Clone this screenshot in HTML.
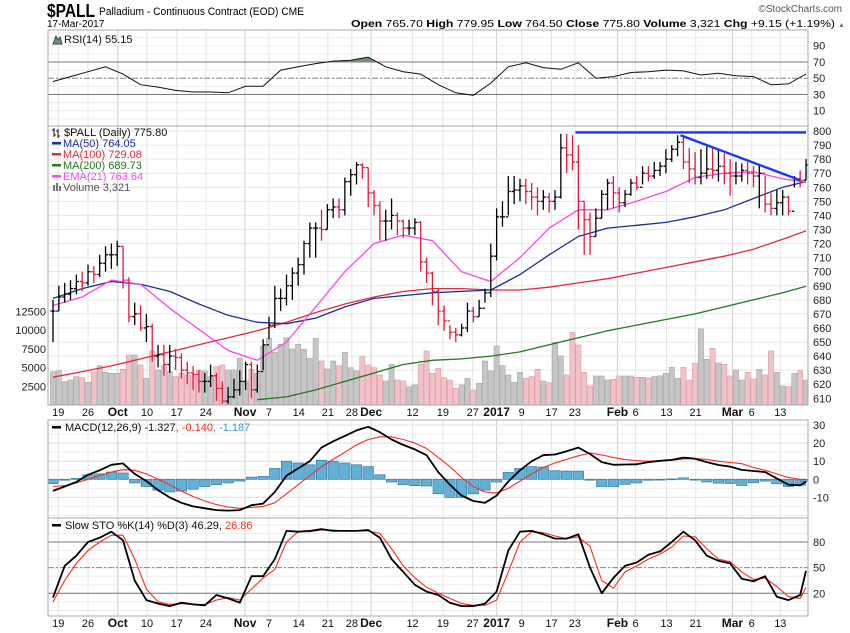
<!DOCTYPE html>
<html><head><meta charset="utf-8"><style>
html,body{margin:0;padding:0;background:#fff;}
svg{display:block;font-family:"Liberation Sans",sans-serif;}
</style></head><body>
<svg id="c" width="850" height="633" viewBox="0 0 850 633" xmlns="http://www.w3.org/2000/svg">
<g>
<text x="47" y="17" font-size="18" font-weight="bold" textLength="48" lengthAdjust="spacingAndGlyphs">$PALL</text>
<text x="99" y="15" font-size="11" textLength="205" lengthAdjust="spacingAndGlyphs">Palladium - Continuous Contract (EOD) CME</text>
<text x="842" y="12" font-size="10" fill="#555" text-anchor="end">©StockCharts.com</text>
<text x="47" y="27" font-size="10">17-Mar-2017</text>
<text x="351" y="27" font-size="10.5" textLength="484" lengthAdjust="spacingAndGlyphs"><tspan font-weight="bold">Open</tspan> 765.70 <tspan font-weight="bold">High</tspan> 779.95 <tspan font-weight="bold">Low</tspan> 764.50 <tspan font-weight="bold">Close</tspan> 775.80 <tspan font-weight="bold">Volume</tspan> 3,321 <tspan font-weight="bold">Chg</tspan> +9.15 (+1.19%)</text>
<text x="838" y="27" font-size="7" fill="#777">▲</text>
</g>
<g id="grid"></g>
<g id="marks"></g>
<g id="overlay"></g>
</svg>
<script>
// ===== data =====
const closes=[672,682,684,688,693,692,700,698,706,712,712,
718,694,668,670,660,661,640,641,634,640,639,630,628,627,622,622,626,617,608,611,616,622,634,616,629,648,662,681,681,690,699,705,720,731,731,730,744,746,744,764,769,776,774,756,747,736,736,740,736,731,731,735,707,699,
686,672,665,657,655,660,672,668,674,685,711,739,739,757,758,761,757,753,750,753,750,753,788,783,778,750,737,725,738,755,763,756,749,755,763,760,770,768,772,775,780,787,792,778,773,767,770,773,772,775,770,768,768,772,770,768,770,748,745,749,753,743,766,765,775.8];
const highs=[680,690,692,694,698,700,705,704,712,718,720,
722,718,696,678,676,670,663,648,648,648,645,642,636,633,630,628,634,628,622,618,624,630,636,636,634,652,668,690,688,698,703,710,722,735,735,744,748,752,752,767,773,778,777,774,758,750,744,752,742,737,737,738,736,710,
700,688,676,662,660,663,678,675,680,688,720,745,750,768,768,766,766,763,760,758,756,758,798,798,797,790,750,742,745,758,766,768,760,758,766,768,775,775,778,778,787,790,797,797,788,785,787,789,788,787,784,780,778,777,778,775,776,768,756,758,758,754,768,772,780];
const lows=[650,672,678,680,684,686,690,692,696,700,702,
704,688,664,662,658,650,636,632,626,628,630,624,620,616,614,614,618,608,606,606,610,612,616,610,614,630,652,660,672,676,680,690,698,710,710,722,730,738,738,740,754,762,766,746,740,722,722,730,726,724,726,726,700,692,
676,662,658,652,650,654,657,664,668,678,682,708,732,740,748,750,748,744,740,744,742,744,752,770,772,730,712,712,725,738,744,745,742,746,754,758,762,764,766,768,770,778,782,773,763,762,762,766,766,764,762,754,762,764,762,760,745,742,740,740,740,740,760,760,765];
const volumes=[4456,4590,3120,3340,3790,3655,3030,4456,5260,4365,4235,4235,4770,6685,6685,5350,3565,7220,4680,5260,4456,3790,4235,4010,4010,4680,4545,3790,5125,5350,4680,4680,6240,3210,4770,4235,7890,8910,7040,8110,9000,7490,8110,7440,6240,8910,5880,4810,5880,5260,7040,4990,4545,6460,5350,4990,4010,3210,5440,3340,3210,2450,2675,5440,7220,
4235,4900,3655,3340,2230,2675,3565,2005,2900,5880,4545,7890,5260,4010,3030,4365,3565,3790,4770,3210,2990,8380,6550,4010,9720,8020,4365,2540,3880,3880,3340,3430,3880,3880,3880,3700,3700,3600,3800,3900,4235,5040,3565,5040,3340,5570,10160,6105,7575,5615,5440,3880,4680,3340,4365,3475,4770,4010,7220,4365,2540,2450,4235,4590,3321];
// moving averages, one value every 5 bars
const ma50=[681,688,693,691,686,677,669,664,663,667,675,681,683,685,686,687,698,712,725,731,733,735,739,744,752,760,764];
const ma100=[625,629,633,638,643,648,653,658,664,671,677,682,686,688,688,687,687,689,692,695,699,703,707,711,716,723,729];
const ma200=[null,null,null,null,null,null,null,609,611,616,622,628,634,637,638,640,643,648,653,658,662,666,670,675,680,685,689.7];
const ema21=[676,682,694,691,674,659,644,637,650,675,700,720,726,722,700,693,710,731,744,744,750,757,767,770,771,766,763.6];
// RSI, one value every 3 bars
const rsi=[46,52,58,64,55,42,39,35,33,33,32,40,40,60,64,68,71,72,76,64,58,55,42,32,29,44,64,69,63,61,69,50,52,57,58,60,59,54,56,53,52,42,43,55.15];
// MACD / signal / stochastics, one value every 2 bars
const macd=[-6.4,-4,-1.5,2.5,5,8,8.8,3,-1,-6,-10,-13,-15,-16,-17,-17.3,-17,-14.3,-13.4,-7,2,6,10,17.5,21,24,27,29,26,22,19,16.5,13.3,4,-3,-9,-12,-13,-9,-1.2,5,10,13.3,13.7,15.5,17.5,14,9.5,8,8.2,8.3,9.5,10.2,10.7,12,11.4,9.5,7.9,7,5.2,4.6,4,0.5,-3,-3.3,-1.33];
const signal=[-4,-3.5,-2,0,2,4,5.3,5,3,0,-3,-6.5,-9.5,-12,-14,-15.3,-16,-15.5,-15,-13,-8,-3,2,7,11,15,19,22,23.5,23.5,22,20,17,12,7,1,-4,-7,-7.5,-5,-1,3,6.5,9,11,13,14.5,13.5,12,11,10.3,10,10.2,10.5,11.2,11.5,11,10,9.3,8.6,6.5,5,3,1,0,-0.14];
const stoK=[15,52,64,80,85,92,82,35,12,8,5,9,7,6,18,14,9,40,40,60,93,92,93,95,93,93,93,94,85,60,45,30,22,18,9,5,5,8,22,70,92,93,89,84,84,89,50,20,38,52,56,65,69,80,92,82,64,58,55,37,34,40,16,12,18,46.29];
const stoD=[10,35,55,70,80,88,88,60,25,10,7,8,7,7,12,15,12,25,38,48,80,92,92,94,94,93,93,93,90,72,52,38,27,20,14,8,6,6,12,45,80,92,91,87,84,86,75,35,26,45,52,60,66,74,87,86,72,60,57,45,36,38,28,16,14,26.86];
const dateLabels=["19","26","Oct","10","17","24","Nov","7","14","21","28","Dec","12","19","27","2017","9","17","23","Feb","6","13","21","Mar","6","13"];
const dateIdx=[0.9,6,11.1,16.1,21.2,26.2,32.9,37,42.1,47.1,51.2,54.5,61.6,66.8,71.9,76,80.3,85.4,89.4,96.7,99.8,105.1,110.1,116.4,119.7,124.6];
const monthLabels=["Oct","Nov","Dec","2017","Feb","Mar"];
const priceTicks=[800,790,780,770,760,750,740,730,720,710,700,690,680,670,660,650,640,630,620,610];
const volTicks=[2500,5000,7500,10000,12500];
const rsiTicks=[90,70,50,30,10];
const macdTicks=[30,20,10,0,-10];
const stoTicks=[80,50,20];
// trendline annotations: [barIndex, price]
const resistLine=[[89.5,799],[129,799]];
const downLine=[[107.5,797],[128,765]];
</script>
<script>
const NS="http://www.w3.org/2000/svg";
const L=48,R=808;
const x0=53,xStep=(806-53)/129;
function xAt(i){return x0+i*xStep;}
const P={rsi:[30,126],main:[126,405],macd:[420,518],sto:[518,616]};
function yPrice(p){return 131+(800-p)*(267.3/190);}
function yVol(v){return 405-v*(18.7/2500);}
function yRsi(v){return 45.7+(90-v)*0.8125;}
function yMacd(v){return 479.3-v*1.81;}
function ySto(v){return 542+(80-v)*0.855;}
function el(tag,attrs,parent){const e=document.createElementNS(NS,tag);for(const k in attrs)e.setAttribute(k,attrs[k]);parent.appendChild(e);return e;}
const grid=document.getElementById('grid'),marks=document.getElementById('marks'),ov=document.getElementById('overlay');

for(const k in P){
  const t=P[k][0],b=P[k][1];
  const bg=el('rect',{x:L,y:t,width:R-L,height:b-t,fill:'#fff'},grid);
  
  
  dateIdx.forEach((di,j)=>{
    const isM=monthLabels.includes(dateLabels[j]);
    const ln=el('line',{x1:xAt(di),x2:xAt(di),y1:t,y2:b,stroke:isM?'#cfcfcf':'#e4e4e4','stroke-width':1},grid);
    
    
  });
}
function hline(y,stroke,dash,name){const ln=el('line',{x1:L,x2:R,y1:y,y2:y,stroke:stroke,'stroke-width':1},grid);if(dash)ln.setAttribute('stroke-dasharray',dash);
  
  return ln;}
function rlabel(y,txt,name){const t=el('text',{x:813,y:y+4,'font-size':11,fill:'#222'},grid);t.textContent=txt;
  
  }
for(let v=100;v>=0;v-=10){hline(yRsi(v),'#ececec',null,'rsi-minor-gridline');}
rsiTicks.forEach(v=>{rlabel(yRsi(v),String(v),'rsi-tick-label');});
hline(yRsi(70),'#777',null,'rsi-overbought-line');
hline(yRsi(30),'#777',null,'rsi-oversold-line');
hline(yRsi(50),'#888','6,2,2,2','rsi-midline');
priceTicks.forEach(v=>{hline(yPrice(v),'#e6e6e6',null,'price-gridline');rlabel(yPrice(v),String(v),'price-tick-label');});
volTicks.forEach(v=>{const t=el('text',{x:46,y:yVol(v)+4,'font-size':11,fill:'#222','text-anchor':'end'},grid);t.textContent=String(v);
  
  });
for(let v=30;v>=-20;v-=5){if(yMacd(v)>421&&yMacd(v)<517)hline(yMacd(v),'#eeeeee',null,'macd-minor-gridline');}
macdTicks.forEach(v=>{hline(yMacd(v),'#e2e2e2',null,'macd-gridline');rlabel(yMacd(v),String(v),'macd-tick-label');});
for(let v=100;v>=0;v-=10){hline(ySto(v),'#ececec',null,'sto-minor-gridline');}
hline(ySto(80),'#777',null,'sto-80-line');
hline(ySto(20),'#777',null,'sto-20-line');
hline(ySto(50),'#888','6,2,2,2','sto-50-line');
stoTicks.forEach(v=>rlabel(ySto(v),String(v),'sto-tick-label'));

function dateAxis(y,name){dateIdx.forEach((di,j)=>{const isM=monthLabels.includes(dateLabels[j]);
  const t=el('text',{x:xAt(di),y:y,'font-size':isM?12:11,'font-weight':isM?'bold':'normal','text-anchor':'middle',fill:'#111'},grid);
  t.textContent=dateLabels[j];
  
  });}
dateAxis(416,'main-date-label');
dateAxis(627,'bottom-date-label');

const defs=el('defs',{},marks);
['main','macd'].forEach(k=>{const cp=el('clipPath',{id:'clip-'+k},defs);el('rect',{x:L,y:P[k][0],width:R-L,height:P[k][1]-P[k][0]},cp);});
const mainG=el('g',{'clip-path':'url(#clip-main)'},marks);



const n=Math.min(closes.length,highs.length,lows.length);
for(let i=0;i<volumes.length&&i<n;i++){
  const down=i>0&&closes[i]<closes[i-1];
  const y=yVol(volumes[i]);
  const r=el('rect',{x:xAt(i)-2.6,y:y,width:5.2,height:405-y,fill:down?'#f1c3c8':'#c6c6c6',stroke:down?'#dc9aa2':'#a8a8a8','stroke-width':0.6},mainG);
  
  
}
function coarseLine(arr,step,yf,color,w,name,parent,last){
  let d='';let started=false;
  arr.forEach((v,k)=>{if(v===null)return;const i=Math.min(k*step,last);d+=(started?'L':'M')+xAt(i).toFixed(1)+','+yf(v).toFixed(1);started=true;});
  const p=el('path',{d:d,fill:'none',stroke:color,'stroke-width':w,'stroke-linejoin':'round'},parent);
  
  
  return p;
}
coarseLine(ma200,5,yPrice,'#1e7b1e',1.3,'ma200-line',mainG,129);
coarseLine(ma100,5,yPrice,'#e8283c',1.3,'ma100-line',mainG,129);
coarseLine(ma50,5,yPrice,'#1c2c9c',1.3,'ma50-line',mainG,129);
coarseLine(ema21,5,yPrice,'#ff44ee',1.3,'ema21-line',mainG,129);
for(let i=0;i<n;i++){
  const down=i>0&&closes[i]<closes[i-1];
  const c=down?'#e21b3c':'#000';
  const x=xAt(i);
  const g=el('g',{stroke:c,'stroke-width':1.3},mainG);
  
  
  el('line',{x1:x,x2:x,y1:yPrice(highs[i]),y2:yPrice(lows[i])},g);
  const o=i>0?closes[i-1]:closes[i];
  el('line',{x1:x-2.5,x2:x,y1:yPrice(o),y2:yPrice(o)},g);
  el('line',{x1:x,x2:x+2.5,y1:yPrice(closes[i]),y2:yPrice(closes[i])},g);
}
[[resistLine,'resistance-trendline'],[downLine,'descending-trendline']].forEach(pair=>{
  const ln=pair[0];
  const l=el('line',{x1:xAt(ln[0][0]),y1:yPrice(ln[0][1]),x2:xAt(ln[1][0]),y2:yPrice(ln[1][1]),stroke:'#1637ff','stroke-width':2.4},mainG);
  
  
});

{
  let d='';rsi.forEach((v,k)=>{const i=Math.min(k*3,129);d+=(k?'L':'M')+xAt(i).toFixed(1)+','+yRsi(v).toFixed(1);});
  const cp=el('clipPath',{id:'clip-rsi70'},defs);el('rect',{x:L,y:P.rsi[0],width:R-L,height:yRsi(70)-P.rsi[0]},cp);
  const f=el('path',{d:d+'L'+xAt(129)+','+yRsi(70)+'L'+xAt(0)+','+yRsi(70)+'Z',fill:'#6f9470',stroke:'none','clip-path':'url(#clip-rsi70)'},marks);
  
  
  const p=el('path',{d:d,fill:'none',stroke:'#111','stroke-width':1},marks);
  
  
}
const macdG=el('g',{'clip-path':'url(#clip-macd)'},marks);


for(let k=0;k<macd.length&&k<signal.length;k++){
  const h=macd[k]-signal[k];const i=Math.min(k*2,129);
  const y0=yMacd(0),y1=yMacd(h);
  const r=el('rect',{x:xAt(i)-5.2,y:Math.min(y0,y1),width:10.4,height:Math.max(0.8,Math.abs(y1-y0)),fill:'#62b0d6',stroke:'#2e7ea8','stroke-width':0.7},macdG);
  
  
}
coarseLine(signal,2,yMacd,'#ff2a1a',1.1,'macd-signal-line',macdG,129);
coarseLine(macd,2,yMacd,'#000',1.8,'macd-line',macdG,129);
coarseLine(stoD,2,ySto,'#ff2a1a',1.1,'sto-d-line',marks,129);
coarseLine(stoK,2,ySto,'#000',1.8,'sto-k-line',marks,129);

for(const k in P){const t=P[k][0],b=P[k][1];
  const r=el('rect',{x:L,y:t,width:R-L,height:b-t,fill:'none',stroke:'#a8a8a8','stroke-width':1},ov);
  
  }

function leg(x,y,txt,color,name,marker){
  const g=el('g',{},ov);
  
  
  if(marker==='line')el('rect',{x:x,y:y-5,width:9,height:2.5,fill:color},g);
  const t=el('text',{x:x+(marker?11:0),y:y,'font-size':11,fill:color},g);t.textContent=txt;return g;
}
{
  const g=leg(64,43,'RSI(14) 55.15','#111','rsi-legend','');
  el('path',{d:'M53,44 L56,36 L58,40 L60,37 L62,44 Z',fill:'#6f9470',stroke:'#345'},g);
}
{
  const g=leg(64,136,'$PALL (Daily) 775.80','#111','price-legend','');
  el('path',{d:'M54,128 v9 M52,130 h2 M54,135 h2 M58,129 v9 M56,131 h2 M58,136 h2',stroke:'#111','stroke-width':1,fill:'none'},g);
}
leg(52,147,'MA(50) 764.05','#1c2c9c','ma50-legend','line');
leg(52,158,'MA(100) 729.08','#e8283c','ma100-legend','line');
leg(52,169,'MA(200) 689.73','#1e7b1e','ma200-legend','line');
leg(52,180,'EMA(21) 763.64','#ff44ee','ema21-legend','line');
{
  const g=leg(63,191,'Volume 3,321','#555','volume-legend','');
  el('path',{d:'M53,191 v-6 h2 v6 M56,191 v-8 h2 v8 M59,191 v-5 h2 v5',fill:'#777',stroke:'none'},g);
}
{
  const g=el('g',{},ov);
  
  
  el('rect',{x:52,y:426,width:9,height:2.5,fill:'#000'},g);
  const t=el('text',{x:65,y:431,'font-size':11},g);
  const a=el('tspan',{fill:'#111'},t);a.textContent='MACD(12,26,9) -1.327';
  const b=el('tspan',{fill:'#ff2a1a'},t);b.textContent=', -0.140';
  const c=el('tspan',{fill:'#3a9ad0'},t);c.textContent=', -1.187';
}
{
  const g=el('g',{},ov);
  
  
  el('rect',{x:52,y:524,width:9,height:2.5,fill:'#000'},g);
  const t=el('text',{x:65,y:529,'font-size':11},g);
  const a=el('tspan',{fill:'#111'},t);a.textContent='Slow STO %K(14) %D(3) 46.29, ';
  const b=el('tspan',{fill:'#ff2a1a'},t);b.textContent='26.86';
}
</script>
</body></html>
